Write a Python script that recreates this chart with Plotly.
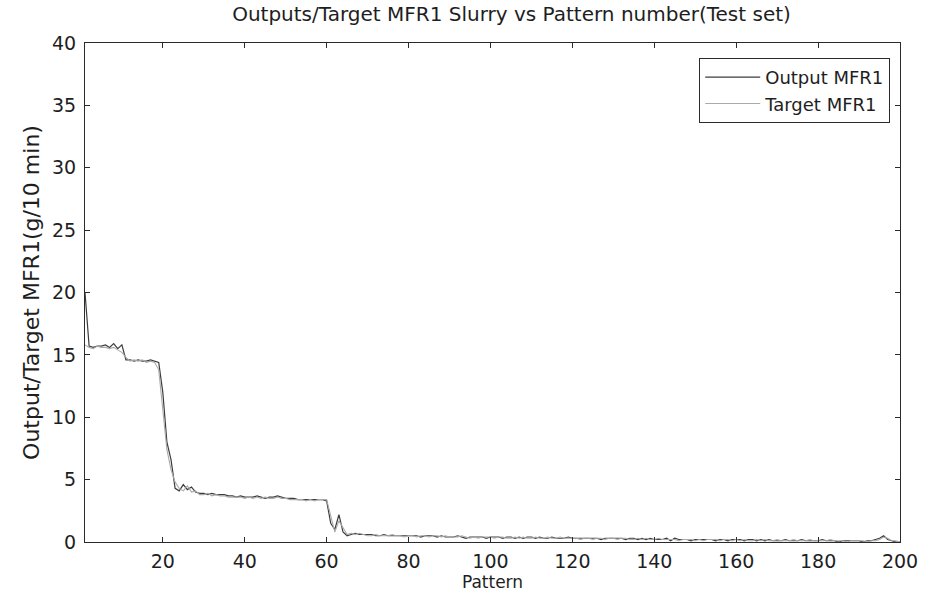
import plotly.graph_objects as go

title_text = "Outputs/Target MFR1 Slurry vs Pattern number(Test set)"
x_title = "Pattern"
y_title = "Output/Target MFR1(g/10 min)"
series_names = ["Output MFR1", "Target MFR1"]

pattern = list(range(1, 201))

output_mfr1 = [
    20.0, 15.7, 15.6, 15.7, 15.7, 15.8, 15.6, 15.9, 15.5, 15.8,
    14.6, 14.6, 14.5, 14.6, 14.5, 14.5, 14.6, 14.5, 14.4, 12.0,
    8.0, 6.6, 4.3, 4.1, 4.6, 4.2, 4.4, 4.0, 3.9, 3.9,
    3.8, 3.9, 3.8, 3.8, 3.8, 3.7, 3.7, 3.6, 3.7, 3.6,
    3.6, 3.6, 3.7, 3.6, 3.5, 3.6, 3.6, 3.7, 3.6, 3.5,
    3.5, 3.5, 3.4, 3.4, 3.4, 3.4, 3.4, 3.4, 3.4, 3.3,
    1.5, 1.0, 2.2, 0.8, 0.5, 0.6, 0.7, 0.6, 0.6, 0.6,
    0.6, 0.5, 0.5, 0.6, 0.5, 0.5, 0.5, 0.5, 0.5, 0.5,
    0.5, 0.5, 0.4, 0.5, 0.5, 0.5, 0.4, 0.5, 0.4, 0.4,
    0.4, 0.5, 0.4, 0.3, 0.4, 0.4, 0.4, 0.4, 0.3, 0.4,
    0.4, 0.4, 0.3, 0.4, 0.4, 0.3, 0.4, 0.3, 0.4, 0.4,
    0.3, 0.4, 0.3, 0.3, 0.4, 0.3, 0.3, 0.3, 0.4, 0.3,
    0.3, 0.3, 0.3, 0.3, 0.3, 0.3, 0.2, 0.3, 0.3, 0.3,
    0.3, 0.3, 0.2, 0.3, 0.3, 0.2, 0.3, 0.2, 0.3, 0.2,
    0.2, 0.2, 0.3, 0.1, 0.3, 0.2, 0.2, 0.2, 0.1, 0.2,
    0.2, 0.2, 0.2, 0.2, 0.1, 0.2, 0.2, 0.1, 0.2, 0.2,
    0.2, 0.1, 0.2, 0.2, 0.1, 0.2, 0.1, 0.2, 0.1, 0.1,
    0.1, 0.2, 0.1, 0.1, 0.1, 0.2, 0.1, 0.1, 0.1, 0.1,
    0.2, 0.1, 0.1, 0.1, 0.0, 0.1, 0.1, 0.1, 0.1, 0.1,
    0.0, 0.1, 0.1, 0.2, 0.3, 0.5, 0.2, 0.1, 0.0, 0.0,
]

target_mfr1 = [
    15.8, 15.6, 15.5, 15.7, 15.6, 15.6, 15.5, 15.6, 15.4, 15.2,
    14.8, 14.5, 14.6, 14.5, 14.6, 14.4, 14.5, 14.4, 13.8, 10.5,
    7.4, 5.8, 4.8, 4.3, 4.1, 4.5, 4.0, 4.1, 3.8, 3.8,
    3.9, 3.7, 3.8, 3.7, 3.7, 3.6, 3.6, 3.6, 3.6, 3.5,
    3.6, 3.5, 3.6, 3.5, 3.6, 3.5, 3.5, 3.6, 3.5, 3.5,
    3.4, 3.4, 3.4, 3.4, 3.3, 3.4, 3.3, 3.4, 3.4, 3.4,
    2.1, 0.8, 1.7, 1.1, 0.6, 0.7, 0.6, 0.7, 0.6, 0.5,
    0.5, 0.6, 0.5, 0.5, 0.5, 0.6, 0.5, 0.5, 0.4, 0.5,
    0.5, 0.4, 0.5, 0.5, 0.4, 0.5, 0.5, 0.4, 0.5, 0.4,
    0.4, 0.4, 0.5, 0.4, 0.3, 0.4, 0.3, 0.4, 0.4, 0.4,
    0.3, 0.4, 0.4, 0.3, 0.3, 0.4, 0.3, 0.4, 0.3, 0.3,
    0.4, 0.3, 0.3, 0.4, 0.3, 0.3, 0.4, 0.3, 0.3, 0.3,
    0.3, 0.2, 0.3, 0.3, 0.2, 0.3, 0.3, 0.2, 0.3, 0.3,
    0.2, 0.3, 0.3, 0.2, 0.2, 0.3, 0.2, 0.3, 0.2, 0.2,
    0.3, 0.2, 0.2, 0.2, 0.2, 0.1, 0.2, 0.2, 0.2, 0.1,
    0.2, 0.1, 0.2, 0.2, 0.2, 0.1, 0.2, 0.2, 0.1, 0.2,
    0.1, 0.2, 0.1, 0.1, 0.2, 0.1, 0.2, 0.1, 0.1, 0.2,
    0.1, 0.1, 0.1, 0.2, 0.1, 0.1, 0.1, 0.2, 0.1, 0.1,
    0.1, 0.1, 0.2, 0.1, 0.1, 0.1, 0.0, 0.1, 0.1, 0.1,
    0.1, 0.0, 0.1, 0.1, 0.2, 0.4, 0.3, 0.1, 0.1, 0.0,
]

x_ticks = [20, 40, 60, 80, 100, 120, 140, 160, 180, 200]
y_ticks = [0, 5, 10, 15, 20, 25, 30, 35, 40]

FONT = "DejaVu Sans, Arial, sans-serif"
TXT = "#1e1e1e"

fig = go.Figure()
fig.add_trace(go.Scatter(x=pattern, y=output_mfr1, mode="lines", name=series_names[0],
                         line=dict(color="#3c3c3c", width=1.2)))
fig.add_trace(go.Scatter(x=pattern, y=target_mfr1, mode="lines", name=series_names[1],
                         line=dict(color="#aaaaaa", width=1.1)))

axis_common = dict(showline=True, linecolor="#2a2a2a", linewidth=1.2, mirror="ticks",
                   ticks="inside", ticklen=5, tickcolor="#2a2a2a", showgrid=False,
                   zeroline=False, tickfont=dict(family=FONT, size=19, color=TXT))

fig.update_layout(
    width=930, height=597,
    margin=dict(l=85, r=22, t=43, b=55),
    paper_bgcolor="white", plot_bgcolor="white",
    font=dict(family=FONT, color=TXT),
    title=dict(text=title_text, x=0.55, xanchor="center", y=0.976, yanchor="middle",
               font=dict(family=FONT, size=20, color=TXT)),
    xaxis=dict(range=[1, 200], tickvals=x_ticks, ticklabelstandoff=2,
               title=dict(text=x_title, font=dict(family=FONT, size=17), standoff=0),
               **axis_common),
    yaxis=dict(range=[0, 40], tickvals=y_ticks, ticklabelstandoff=4,
               title=dict(text=y_title, font=dict(family=FONT, size=22), standoff=6),
               **axis_common),
    legend=dict(x=0.988, xanchor="right", y=0.97, yanchor="top",
                bgcolor="white", bordercolor="#2a2a2a", borderwidth=1,
                font=dict(family=FONT, size=18, color=TXT),
                tracegroupgap=0, itemwidth=55),
    showlegend=True,
)

fig.write_html("out.html")
